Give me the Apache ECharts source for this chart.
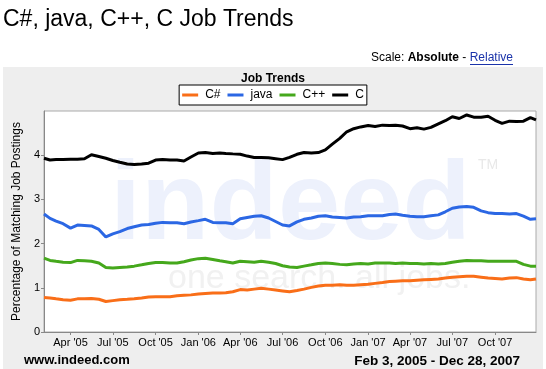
<!DOCTYPE html>
<html><head><meta charset="utf-8">
<script src="https://cdn.jsdelivr.net/npm/echarts@6/dist/echarts.min.js"></script>
<style>html,body{margin:0;padding:0;background:#fff}#c{width:546px;height:369px}</style>
</head><body><div id="c"></div>
<script>
const dates = ['2005-02-03','2005-02-16','2005-03-01','2005-03-16','2005-04-01','2005-04-16','2005-05-01','2005-05-16','2005-06-01','2005-06-16','2005-07-01','2005-07-16','2005-08-01','2005-08-16','2005-09-01','2005-09-16','2005-10-01','2005-10-16','2005-11-01','2005-11-16','2005-12-01','2005-12-16',
'2006-01-01','2006-01-16','2006-02-01','2006-02-16','2006-03-01','2006-03-16','2006-04-01','2006-04-16','2006-05-01','2006-05-16','2006-06-01','2006-06-16','2006-07-01','2006-07-16','2006-08-01','2006-08-16','2006-09-01','2006-09-16','2006-10-01','2006-10-16','2006-11-01','2006-11-16','2006-12-01','2006-12-16',
'2007-01-01','2007-01-16','2007-02-01','2007-02-16','2007-03-01','2007-03-16','2007-04-01','2007-04-16','2007-05-01','2007-05-16','2007-06-01','2007-06-16','2007-07-01','2007-07-16','2007-08-01','2007-08-16','2007-09-01','2007-09-16','2007-10-01','2007-10-16','2007-11-01','2007-11-16','2007-12-01','2007-12-16','2007-12-28'];

const csharp = [0.78,0.77,0.75,0.73,0.72,0.75,0.75,0.76,0.74,0.69,0.71,0.73,0.74,0.75,0.77,0.79,0.80,0.80,0.80,0.82,0.83,0.84,
0.86,0.87,0.88,0.88,0.89,0.91,0.96,0.95,0.97,0.99,0.97,0.95,0.93,0.91,0.94,0.97,1.01,1.04,1.06,1.06,1.07,1.06,1.06,1.07,
1.08,1.10,1.12,1.14,1.15,1.16,1.16,1.17,1.18,1.19,1.20,1.22,1.24,1.25,1.26,1.26,1.24,1.22,1.21,1.20,1.22,1.23,1.20,1.18,1.20];

const java = [2.67,2.57,2.51,2.45,2.35,2.42,2.41,2.40,2.32,2.15,2.22,2.27,2.34,2.38,2.42,2.43,2.46,2.48,2.47,2.47,2.45,2.49,
2.52,2.55,2.48,2.47,2.47,2.45,2.56,2.59,2.62,2.63,2.58,2.50,2.42,2.40,2.49,2.55,2.58,2.62,2.63,2.60,2.59,2.58,2.60,2.61,
2.63,2.63,2.63,2.66,2.67,2.64,2.62,2.61,2.61,2.63,2.65,2.72,2.80,2.83,2.84,2.82,2.74,2.70,2.68,2.68,2.67,2.68,2.62,2.55,2.56];

const cpp = [1.67,1.62,1.60,1.58,1.57,1.62,1.61,1.60,1.56,1.46,1.45,1.46,1.47,1.49,1.52,1.55,1.57,1.57,1.56,1.56,1.59,1.63,
1.66,1.67,1.64,1.61,1.59,1.56,1.60,1.59,1.58,1.60,1.58,1.55,1.50,1.47,1.46,1.49,1.52,1.55,1.56,1.55,1.53,1.52,1.54,1.55,
1.54,1.56,1.56,1.56,1.55,1.56,1.55,1.55,1.54,1.55,1.54,1.55,1.58,1.60,1.62,1.61,1.61,1.60,1.60,1.60,1.60,1.60,1.53,1.49,1.49];

const clang = [3.93,3.89,3.90,3.90,3.91,3.91,3.92,4.01,3.97,3.93,3.88,3.84,3.80,3.79,3.80,3.82,3.89,3.90,3.89,3.89,3.87,3.96,
4.05,4.06,4.04,4.05,4.04,4.03,4.02,3.98,3.95,3.95,3.94,3.92,3.90,3.95,4.02,4.06,4.05,4.06,4.12,4.25,4.38,4.53,4.60,4.64,
4.67,4.65,4.68,4.67,4.68,4.66,4.60,4.62,4.59,4.63,4.71,4.78,4.87,4.83,4.91,4.86,4.86,4.88,4.79,4.72,4.77,4.76,4.77,4.85,4.80];

const tickDates = ['2005-04-01','2005-07-01','2005-10-01','2006-01-01','2006-04-01','2006-07-01','2006-10-01','2007-01-01','2007-04-01','2007-07-01','2007-10-01'];
const tickLabels = ["Apr '05","Jul '05","Oct '05","Jan '06","Apr '06","Jul '06","Oct '06","Jan '07","Apr '07","Jul '07","Oct '07"];

const seriesNames = ['C#','java','C++','C'];
const seriesColors = ['#f96e18','#2b67e4','#45a81c','#000000'];
const seriesData = [csharp, java, cpp, clang];

const ts = s => { const p = s.split('-').map(Number); return Date.UTC(p[0], p[1]-1, p[2]); };
const tickTs = tickDates.map(ts);
const labelFor = {};
tickTs.forEach((t,i)=>{ labelFor[t] = tickLabels[i]; });

const chart = echarts.init(document.getElementById('c'), null, {renderer:'canvas'});
const F = 'Liberation Sans, Arial, sans-serif';
chart.setOption({
  animation: false,
  backgroundColor: '#ffffff',
  title: [
    {text: 'C#, java, C++, C Job Trends', left: -2, top: 3, textStyle:{fontFamily:F, fontSize:23, fontWeight:'normal', color:'#000'}},
    {text: 'Job Trends', left: 'center', top: 68, textStyle:{fontFamily:F, fontSize:12, fontWeight:'bold', color:'#000'}}
  ],
  graphic: [
    {type:'rect', z:-10, shape:{x:3, y:67, width:540, height:302}, style:{fill:'#eeeeee'}},
    {type:'text', right: 33, top: 52, z:5, style:{
      text: 'Scale: {b|Absolute} - {u|Relative}',
      rich: {b:{fontWeight:'bold', fontFamily:F, fontSize:12, fill:'#000'}, u:{fontFamily:F, fontSize:12, fill:'#1a33aa'}},
      font: '12px Liberation Sans', fill:'#000'}},
    {type:'rect', z:5, shape:{x:470, y:64, width:43, height:1}, style:{fill:'#1a33aa'}},
    {type:'text', z:1, left: 110, top: 152, style:{text:'indeed', font:'bold 112px Liberation Sans', fill:'#edf1fc'}},
    {type:'text', z:1, left: 168, top: 262, style:{text:'one search. all jobs.', font:'34px Liberation Sans', fill:'#f1f1f1'}},
    {type:'text', z:1, left: 478, top: 158, style:{text:'TM', font:'14px Liberation Sans', fill:'#e8e8e8'}},
    {type:'text', z:5, left: 24, top: 354, style:{text:'www.indeed.com', font:'bold 13px Liberation Sans', fill:'#000'}},
    {type:'text', z:5, right: 26, top: 354, style:{text:'Feb 3, 2005 - Dec 28, 2007', font:'bold 13.5px Liberation Sans', fill:'#000'}}
  ],
  legend: {
    top: 85, left: 'center', itemWidth: 16, itemHeight: 3, itemGap: 7,
    icon: 'rect', padding: [4, 3, 4, 3],
    backgroundColor: '#fff', borderColor: '#000', borderWidth: 1,
    textStyle: {fontFamily: F, fontSize: 12, color: '#000', padding:[0,0,0,2]},
    data: seriesNames
  },
  grid: {left: 44, top: 111, width: 492, height: 221, show: true, backgroundColor: '#fff', borderColor: '#aaaaaa', borderWidth: 1},
  xAxis: {
    type: 'value', min: ts('2005-02-03'), max: ts('2007-12-28'),
    axisLine: {show: true, onZero: false, lineStyle: {color: '#888888'}},
    axisTick: {show: true, length: 3, lineStyle:{color:'#888'}, customValues: tickTs},
    axisLabel: {customValues: tickTs, formatter: v => labelFor[v] || '', fontFamily: F, fontSize: 11, color: '#000', margin: 5, hideOverlap:false},
    splitLine: {show: false}
  },
  yAxis: {
    type: 'value', min: 0, max: 5, interval: 1,
    name: 'Percentage of Matching Job Postings', nameLocation: 'middle', nameGap: 15,
    nameTextStyle: {fontFamily: F, fontSize: 12, color: '#000'},
    axisLine: {show: true, lineStyle: {color: '#888888'}},
    axisTick: {show: true, length: 3, lineStyle:{color:'#888'}},
    axisLabel: {fontFamily: F, fontSize: 11, color: '#000', margin: 4, showMaxLabel: false},
    splitLine: {show: false}
  },
  series: seriesNames.map((n, i) => ({
    name: n, type: 'line', showSymbol: false, symbol: 'none',
    color: seriesColors[i],
    lineStyle: {width: 3, color: seriesColors[i]},
    data: dates.map((d, j) => [ts(d), seriesData[i][j]])
  }))
});
</script></body></html>
